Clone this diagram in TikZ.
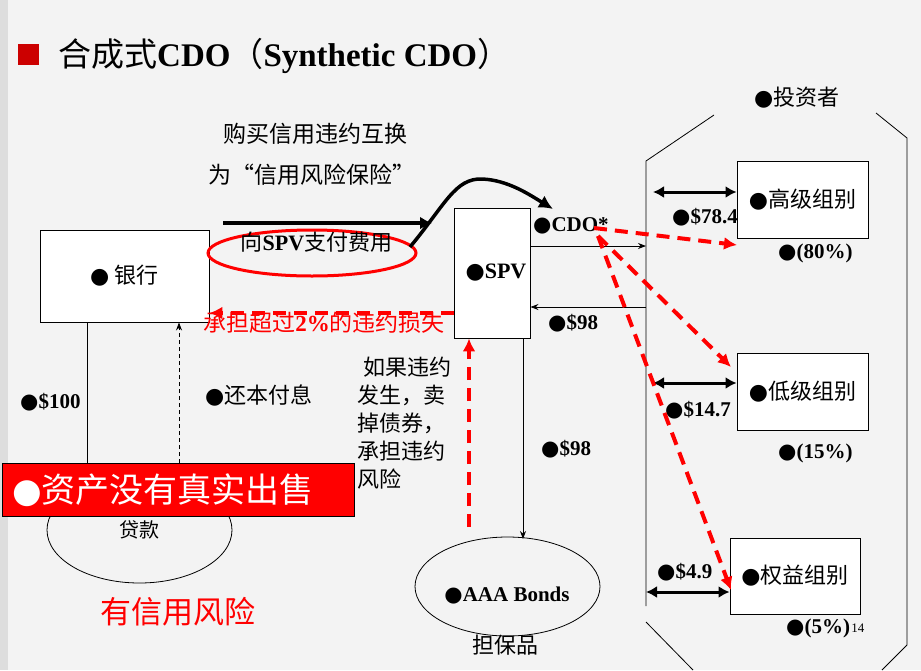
\documentclass[tikz,border=0pt]{standalone}
\usepackage{fontspec}
\setmainfont{Liberation Serif}
\newfontfamily\cjk{Noto Sans CJK SC}
\newfontfamily\dv{DejaVu Sans}
\usetikzlibrary{arrows.meta,shapes.geometric,calc}
\newcommand{\bl}{{\dv ●}}
\definecolor{pagebg}{HTML}{F3F3F3}
\definecolor{stripgray}{HTML}{DDDDDD}
\definecolor{hotred}{HTML}{FF0000}
\definecolor{darkred}{HTML}{CC0000}

\begin{document}
\begin{tikzpicture}[x=1pt,y=-1pt,
  box/.style={draw=black, fill=white, line width=0.9pt, inner sep=0pt},
  lbl/.style={inner sep=0pt, font=\fontsize{21}{24}\selectfont},
  cn/.style={inner sep=0pt, font=\cjk\fontsize{22}{26}\selectfont},
  thinline/.style={line width=0.8pt},
  thinarrow/.style={line width=0.8pt, -{Stealth[length=8pt,width=6pt]}},
  thickarrow/.style={line width=3.5pt, -{Latex[length=12pt,width=13pt]}},
  dblarrow/.style={line width=3pt, {Latex[length=11pt,width=12pt]}-{Latex[length=11pt,width=12pt]}},
  reddash/.style={draw=hotred, line width=4pt, dash pattern=on 13pt off 8pt, -{Latex[length=13pt,width=13pt]}}
]
% page
\fill[pagebg] (0,0) rectangle (921,670);
\fill[stripgray] (0,0) rectangle (8,670);
\useasboundingbox (0,0) rectangle (921,670);

% title
\node[fill=darkred, minimum size=21pt, inner sep=0pt] (sq) at (28,54) {};
\node[anchor=west, inner sep=0pt, font=\fontsize{33}{36}\selectfont] (title) at (58,56)
  {{\cjk 合成式}\textbf{CDO}{\cjk （}\textbf{Synthetic CDO}{\cjk ）}};

% investor enclosure
\draw[thinline] (714,115) -- (646,161) -- (646,606);
\draw[thinline] (646,622) -- (693,670);
\draw[thinline] (876,113) -- (907,138) -- (907,645) -- (882,670);
\node[anchor=west, inner sep=0pt, font=\fontsize{22}{26}\selectfont] (inv) at (754,98) {\bl{\cjk 投资者}};

% main boxes
\node[box, minimum width=169pt, minimum height=92pt, font=\fontsize{22}{26}\selectfont] (bank) at (124.5,276) {\bl\ {\cjk 银行}};
\node[box, minimum width=76pt, minimum height=130pt, font=\fontsize{22}{26}\selectfont] (spv) at (492,273) {\hspace{8pt}\bl\textbf{SPV}};
\node[ellipse, draw, line width=0.8pt, minimum width=185pt, minimum height=106pt, inner sep=0pt, font=\cjk\fontsize{20}{24}\selectfont] (loan) at (139.5,530) {\raisebox{-4pt}{贷款}};
\node[ellipse, draw, line width=0.8pt, minimum width=185pt, minimum height=99pt, inner sep=0pt] (aaa) at (507.5,586.5) {};
\node[lbl] (aaalbl) at (507,595) {\bl\textbf{AAA Bonds}};
\node[cn] (coll) at (505,645) {担保品};

% fee payment and CDS
\node[cn, font=\cjk\fontsize{23}{26}\selectfont] (buy) at (315.5,134) {购买信用违约互换};
\node[cn, font=\cjk\fontsize{23}{26}\selectfont] (insure) at (311.5,175) {为“信用风险保险”};
\node[ellipse, draw=hotred, line width=3pt, minimum width=208pt, minimum height=46pt] (feering) at (312,253) {};
\node[inner sep=0pt, font=\fontsize{22}{26}\selectfont] (fee) at (316.5,242) {{\cjk 向}\textbf{SPV}{\cjk 支付费用}};
\coordinate (payS) at (223,223);
\coordinate (payE) at (432,223);
\draw[thickarrow] (payS) -- (payE);
\coordinate (curS) at (410,247);
\coordinate (curE) at (553,209);
\draw[line width=3.5pt, -{Latex[length=14pt,width=14pt]}] (curS) .. controls (445,205) and (455,178) .. (482,179) .. controls (508,180) and (530,195) .. (curE);

% bank and loan
\coordinate (loanTop) at (87,490);
\draw[thinline] (bank.south -| loanTop) -- (loanTop);
\coordinate (repayS) at (179,470);
\draw[line width=0.8pt, dash pattern=on 4pt off 3pt, -{Stealth[length=8pt,width=6pt]}] (repayS) -- (bank.south -| repayS);
\node[lbl, anchor=west] (d100) at (20,402) {\bl\textbf{\$100}};
\node[lbl, anchor=west, font=\fontsize{22}{26}\selectfont] (repay) at (205,395) {\bl{\cjk 还本付息}};

% SPV flows
\coordinate (inv1) at (646,246);
\draw[thinarrow] (spv.east |- inv1) -- (inv1);
\coordinate (inv2) at (646,307);
\draw[thinarrow] (inv2) -- (spv.east |- inv2);
\coordinate (aaaTop) at (523,539);
\draw[thinarrow] (spv.south -| aaaTop) -- (aaaTop);
\node[lbl, anchor=west] (cdo) at (533,226) {\bl\textbf{CDO*}};
\node[lbl, anchor=west] (d98a) at (548,323) {\bl\textbf{\$98}};
\node[lbl, anchor=west] (d98b) at (541,449) {\bl\textbf{\$98}};
\node[cn, anchor=north west, align=left, font=\cjk\fontsize{22}{28}\selectfont] (sell) at (357,357)
  {\hspace{6pt}如果违约\\发生，卖\\掉债券，\\承担违约\\风险};

% tranches
\node[lbl, anchor=west] (s78) at (672,217) {\bl\textbf{\$78.4}};
\node[box, minimum width=131pt, minimum height=77pt, font=\fontsize{22}{26}\selectfont] (senior) at (802.5,199.5) {\bl{\cjk 高级组别}};
\node[lbl, anchor=west] (p80) at (778,253) {\bl\textbf{(80\%)}};
\node[box, minimum width=131pt, minimum height=77pt, font=\fontsize{22}{26}\selectfont] (mezz) at (802.5,391.5) {\bl{\cjk 低级组别}};
\node[lbl, anchor=west] (s147) at (665,410) {\bl\textbf{\$14.7}};
\node[lbl, anchor=west] (p15) at (778,453) {\bl\textbf{(15\%)}};
\node[box, minimum width=130pt, minimum height=76pt, font=\fontsize{22}{26}\selectfont] (equity) at (795,576) {\bl{\cjk 权益组别}};
\node[lbl, anchor=west] (s49) at (657,572) {\bl\textbf{\$4.9}};
\node[lbl, anchor=west] (p5) at (786,628) {\bl\textbf{(5\%)}};
\node[inner sep=0pt, anchor=west, font=\fontsize{13}{15}\selectfont] (pgno) at ([xshift=1pt]p5.east) {14};
\coordinate (d1) at (653,192);
\draw[dblarrow] (d1) -- (d1 -| senior.west);
\coordinate (d2) at (653,383);
\draw[dblarrow] (d2) -- (d2 -| mezz.west);
\coordinate (d3) at (646,592);
\draw[dblarrow] (d3) -- (d3 -| equity.west);

% default-loss flows
\coordinate (r0) at (594,228);
\coordinate (r1) at (598,236);
\coordinate (t1) at (737,245);
\coordinate (t2) at (731,367);
\coordinate (t3) at (731,590);
\draw[reddash] (r0) -- (t1);
\draw[reddash] (r1) -- (t2);
\draw[reddash] (r1) -- (t3);
\coordinate (lossY) at (0,313);
\draw[reddash] (spv.west |- lossY) -- (bank.east |- lossY);
\coordinate (sellS) at (469,527);
\draw[reddash] (sellS) -- (spv.south -| sellS);
\node[inner sep=0pt, text=hotred, font=\fontsize{23}{26}\selectfont] (loss) at (324,323) {{\cjk 承担超过}\textbf{2\%}{\cjk 的违约损失}};

% notes
\node[draw=black, fill=hotred, line width=0.9pt, minimum width=352pt, minimum height=53pt, inner sep=0pt] (nosale) at (178,489.5) {};
\node[anchor=west, inner sep=0pt, text=white, font=\fontsize{34}{38}\selectfont] (nosaletxt) at (12,490) {\bl{\cjk 资产没有真实出售}};
\node[inner sep=0pt, text=hotred, font=\cjk\fontsize{31}{34}\selectfont] (risk) at (178,612) {有信用风险};
\end{tikzpicture}
\end{document}
